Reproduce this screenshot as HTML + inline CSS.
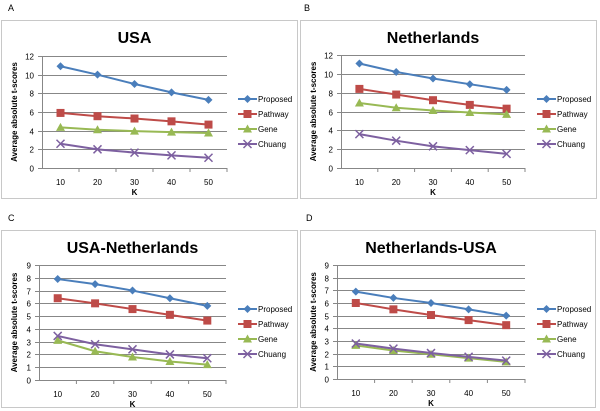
<!DOCTYPE html>
<html><head><meta charset="utf-8"><style>
body{margin:0;background:#fff;}
svg{display:block;font-family:"Liberation Sans",sans-serif;}
</style></head><body>
<svg id="fig" width="600" height="411" viewBox="0 0 600 411"></svg>
<script>
const categories=[10,20,30,40,50];
const seriesNames=["Proposed","Pathway","Gene","Chuang"];
const titles=["USA","Netherlands","USA-Netherlands","Netherlands-USA"];
const letters=["A","B","C","D"];
const yMaxes=[12,12,9,9];
const yStepsArr=[2,2,1,1];
const usaProposed=[10.9,10,9,8.1,7.3];
const usaPathway=[5.9,5.55,5.3,5,4.65];
const usaGene=[4.35,4.1,3.95,3.85,3.75];
const usaChuang=[2.6,2,1.65,1.35,1.1];
const nlProposed=[11.1,10.2,9.5,8.9,8.3];
const nlPathway=[8.4,7.8,7.2,6.7,6.3];
const nlGene=[6.9,6.4,6.1,5.9,5.7];
const nlChuang=[3.6,2.9,2.3,1.9,1.5];
const usanlProposed=[7.9,7.5,7.0,6.4,5.8];
const usanlPathway=[6.4,6.0,5.55,5.1,4.65];
const usanlGene=[3.1,2.25,1.8,1.45,1.2];
const usanlChuang=[3.45,2.8,2.4,2.0,1.7];
const nlusaProposed=[6.9,6.4,6.0,5.5,5.0];
const nlusaPathway=[6.0,5.5,5.05,4.65,4.25];
const nlusaGene=[2.65,2.25,1.95,1.65,1.35];
const nlusaChuang=[2.8,2.4,2.05,1.75,1.45];
const panelData=[[usaProposed,usaPathway,usaGene,usaChuang],[nlProposed,nlPathway,nlGene,nlChuang],[usanlProposed,usanlPathway,usanlGene,usanlChuang],[nlusaProposed,nlusaPathway,nlusaGene,nlusaChuang]];

const colors=["#4a7ebb","#be4b48","#98b954","#7d60a0"];
const layouts=[
 {bx:1,by:20,bw:296,bh:178,l:42,r:227,t:56,b:168,lx:238,ly:99,lt:8,lc:36,title:37},
 {bx:300,by:20,bw:296,bh:178,l:341,r:525,t:55,b:168,lx:537,ly:99,lt:304,lc:336,title:37},
 {bx:1,by:230,bw:296,bh:177,l:39,r:226,t:265,b:380,lx:238,ly:309,lt:8,lc:240,title:247},
 {bx:300,by:230,bw:295,bh:177,l:337,r:525,t:265,b:379,lx:537,ly:309,lt:306,lc:298+1,title:247}
];
const NS="http://www.w3.org/2000/svg";
const svg=document.getElementById('fig');
function mk(tag,attrs,parent,txt){const e=document.createElementNS(NS,tag);for(const k in attrs)e.setAttribute(k,attrs[k]);if(txt!==undefined)e.textContent=txt;(parent||svg).appendChild(e);return e;}
function marker(g,type,x,y,c){
 if(type===0){const m=mk('path',{d:`M${x} ${y-4}L${x+4} ${y}L${x} ${y+4}L${x-4} ${y}Z`,fill:c},g);}
 else if(type===1){const m=mk('rect',{x:x-4,y:y-4,width:8,height:8,fill:c},g);}
 else if(type===2){const m=mk('path',{d:`M${x} ${y-4.5}L${x+4.5} ${y+3.5}L${x-4.5} ${y+3.5}Z`,fill:c},g);}
 else {const m=mk('path',{d:`M${x-4} ${y-4}L${x+4} ${y+4}M${x+4} ${y-4}L${x-4} ${y+4}`,stroke:c,'stroke-width':1.5,fill:'none'},g);}
}
layouts.forEach((L,p)=>{
 const g=mk('g',{});
 
 
 const lt=mk('text',{x:L.lt,y:L.by-9,'font-size':9,fill:'#000'},g,letters[p]);
 
 const box=mk('rect',{x:L.bx+0.5,y:L.by+0.5,width:L.bw,height:L.bh,fill:'#fff',stroke:'#c8c8c8'},g);
 
 const tt=mk('text',{x:(L.l+L.r)/2,y:L.title+6,'font-size':16,'font-weight':'bold','text-anchor':'middle'},g,titles[p]);
 
 const ymax=yMaxes[p],step=yStepsArr[p];
 const ys=v=>L.b-(v/ymax)*(L.b-L.t);
 const bw=(L.r-L.l)/categories.length;
 const xs=i=>L.l+bw*(i+0.5);
 for(let v=0;v<=ymax;v+=step){
  const y=Math.round(ys(v))+0.5;
  if(v>0){const gl=mk('line',{x1:L.l,x2:L.r,y1:y,y2:y,stroke:'#878787','stroke-width':1},g);}
  const tk=mk('line',{x1:L.l-4,x2:L.l,y1:y,y2:y,stroke:'#878787'},g);
  const tl=mk('text',{x:L.l-8,y:y+3,'font-size':8,'text-anchor':'end'},g,v);
 }
 const ya=mk('line',{x1:L.l+0.5,x2:L.l+0.5,y1:L.t,y2:L.b,stroke:'#878787'},g);
 const xa=mk('line',{x1:L.l,x2:L.r,y1:L.b+0.5,y2:L.b+0.5,stroke:'#878787'},g);
 categories.forEach((c,i)=>{
  const xt=mk('line',{x1:L.l+bw*(i+1),x2:L.l+bw*(i+1),y1:L.b,y2:L.b+4,stroke:'#878787'},g);
  const xl=mk('text',{x:xs(i),y:L.b+17,'font-size':8,'text-anchor':'middle'},g,c);
 });
 const xt=mk('text',{x:(L.l+L.r)/2,y:L.b+27,'font-size':8,'font-weight':'bold','text-anchor':'middle'},g,'K');
 
 const yc=(L.t+L.b)/2,yx=L.bx+16;
 const yt=mk('text',{x:yx,y:yc,'font-size':8,'font-weight':'bold','text-anchor':'middle',transform:`rotate(-90 ${yx} ${yc})`},g,'Average absolute t-scores');
 
 panelData[p].forEach((vals,s)=>{
  const pts=vals.map((v,i)=>xs(i)+','+ys(v)).join(' ');
  const pl=mk('polyline',{points:pts,fill:'none',stroke:colors[s],'stroke-width':2},g);
  
  vals.forEach((v,i)=>marker(g,s,xs(i),ys(v),colors[s]));
  const ly=L.ly+s*15;
  const le=mk('g',{},g);
  mk('line',{x1:L.lx,x2:L.lx+19,y1:ly,y2:ly,stroke:colors[s],'stroke-width':2},le);
  marker(le,s,L.lx+9.5,ly,colors[s]);
  mk('text',{x:L.lx+20,y:ly+3,'font-size':8},le,seriesNames[s]);
 });
});
</script>
</body></html>
